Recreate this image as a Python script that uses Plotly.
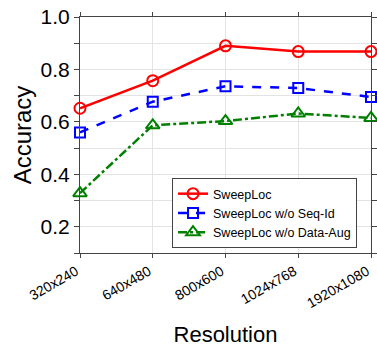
import plotly.graph_objects as go

resolutions = ["320x240", "640x480", "800x600", "1024x768", "1920x1080"]
sweeploc = [0.652, 0.757, 0.890, 0.868, 0.868]
no_seq_id = [0.560, 0.677, 0.736, 0.729, 0.695]
no_data_aug = [0.328, 0.587, 0.603, 0.632, 0.615]

y_tickvals = [0.1, 0.2, 0.3, 0.4, 0.5, 0.6, 0.7, 0.8, 0.9, 1.0]
y_ticktext = ["", "0.2", "", "0.4", "", "0.6", "", "0.8", "", "1.0"]

font = "Liberation Sans, Arial, sans-serif"

fig = go.Figure()
fig.add_trace(go.Scatter(
    x=resolutions, y=sweeploc, name="SweepLoc", mode="lines+markers",
    line=dict(color="#ff0000", width=2.5),
    marker=dict(symbol="circle-open", size=11, color="#ff0000", line=dict(width=2)),
    cliponaxis=False))
fig.add_trace(go.Scatter(
    x=resolutions, y=no_seq_id, name="SweepLoc w/o Seq-Id", mode="lines+markers",
    line=dict(color="#0000ff", width=2.5, dash="dash"),
    marker=dict(symbol="square-open", size=10, color="#0000ff", line=dict(width=2)),
    cliponaxis=False))
fig.add_trace(go.Scatter(
    x=resolutions, y=no_data_aug, name="SweepLoc w/o Data-Aug", mode="lines+markers",
    line=dict(color="#008000", width=2.5, dash="dashdot"),
    marker=dict(symbol="triangle-up-open", size=12, color="#008000", line=dict(width=2)),
    cliponaxis=False))

fig.update_layout(
    width=377, height=347,
    margin=dict(l=80, r=6, t=17, b=94),
    paper_bgcolor="white", plot_bgcolor="white",
    font=dict(family=font, color="black"),
    showlegend=True,
    legend=dict(x=0.952, y=0.021, xanchor="right", yanchor="bottom",
                bgcolor="white", bordercolor="#444444", borderwidth=1,
                font=dict(size=12.5, family=font), tracegroupgap=0,
                itemwidth=30),
    xaxis=dict(
        type="category", range=[0, 4], showgrid=True, gridcolor="#e3e3e3",
        tickangle=-30, tickfont=dict(size=14), ticks="outside", ticklen=4,
        tickcolor="#444444", automargin=False, ticklabeloverflow="allow",
        ticklabelshift=-4,
        showline=True, linecolor="#444444", linewidth=1, mirror="ticks",
        title=dict(text="Resolution", font=dict(size=22), standoff=17)),
    yaxis=dict(
        range=[0.1, 1.0], tickvals=y_tickvals, ticktext=y_ticktext,
        showgrid=True, gridcolor="#e3e3e3", tickfont=dict(size=21),
        ticks="outside", ticklen=5, tickcolor="#444444", automargin=False,
        ticklabeloverflow="allow",
        showline=True, linecolor="#444444", linewidth=1, mirror="ticks",
        title=dict(text="Accuracy", font=dict(size=24), standoff=2)),
)

fig.write_html(
    "out.html",
    config={"displayModeBar": False},
    post_script="document.body.style.margin='0';document.body.style.overflow='hidden';",
)
